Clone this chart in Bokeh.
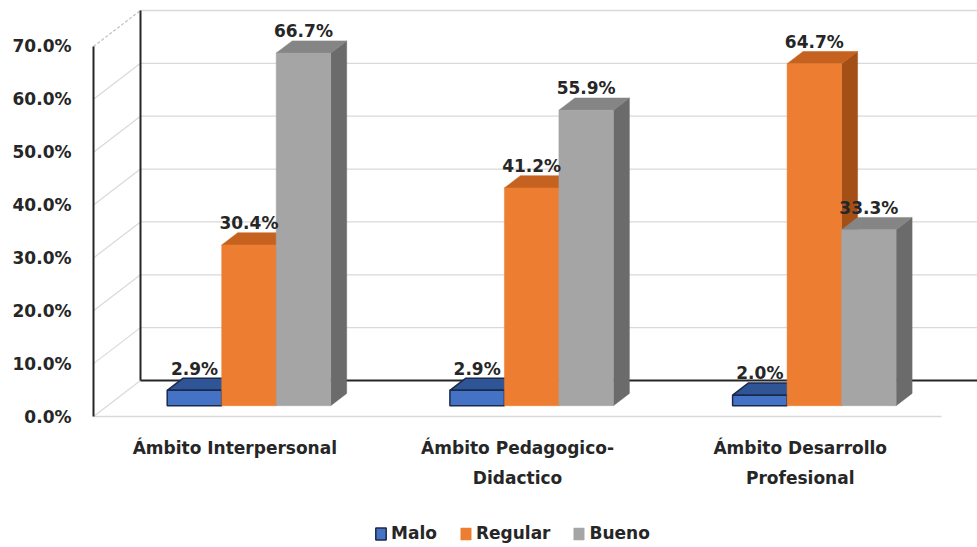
from bokeh.plotting import figure
from bokeh.models import (ColumnDataSource, FixedTicker, PrintfTickFormatter,
                          Range1d, Legend, LegendItem)
from bokeh.embed import file_html
from bokeh.resources import INLINE
from bokeh.core.properties import value

# ---------------- data ----------------
categories = ["Ámbito Interpersonal", "Ámbito Pedagogico-\nDidactico",
              "Ámbito Desarrollo\nProfesional"]
series_names = ["Malo", "Regular", "Bueno"]
malo = [2.9, 2.9, 2.0]
regular = [30.4, 41.2, 64.7]
bueno = [66.7, 55.9, 33.3]
y_ticks = [0, 10, 20, 30, 40, 50, 60, 70]

series_values = [malo, regular, bueno]

# ---------------- styles ----------------
front_colors = ["#4472C4", "#ED7D31", "#A5A5A5"]
top_colors = ["#2F5597", "#C5621F", "#858585"]
side_colors = ["#203864", "#A34F16", "#6B6B6B"]
line_colors = ["#1B2A4A", None, None]
TXT = "#262626"
FONT = "DejaVu Sans"
GRID = "#D9D9D9"
DARK = "#262626"

# ---------------- 3D geometry (data units) ----------------
PX_X = 282.7          # pixels per category unit
PX_Y = 5.286          # pixels per percent
DX = 47 / PX_X        # full depth shift (x)
DY = 36 / PX_Y        # full depth shift (y)
F0, F1 = 0.30, 0.64   # bar front / back depth fractions
BAR_W = 54.5 / PX_X
X0 = -0.5             # left edge of the front plane
X1 = 2.5              # right edge of the front plane
YMAX = y_ticks[-1]

W, H = 977, 547
ML = 90               # frame left edge (px)
FLOOR_PX = 416        # pixel row of the front floor (value 0)
x_start = X0 - 3 / PX_X
x_end = x_start + (W - ML) / PX_X
y_start = -(H - FLOOR_PX) / PX_Y
y_end = FLOOR_PX / PX_Y

# category label rows (offsets below the floor, in percent units)
CAT_LINE1 = -31 / PX_Y
CAT_LINE2 = -61 / PX_Y
LABEL_GAP = 9.5 / PX_Y

p = figure(width=W, height=H, output_backend="svg", toolbar_location=None,
           x_range=Range1d(x_start, x_end), y_range=Range1d(y_start, y_end),
           min_border_left=ML, min_border_right=0, min_border_top=0,
           min_border_bottom=0)
p.outline_line_color = None
p.xgrid.visible = False
p.ygrid.visible = False
p.xaxis.visible = False
p.background_fill_color = "white"
p.border_fill_color = "white"

# ---------------- walls ----------------
bx = X0 + DX
n = len(y_ticks)
p.segment(x0=[bx] * (n - 1), y0=[t + DY for t in y_ticks[1:]],
          x1=[x_end + 1] * (n - 1), y1=[t + DY for t in y_ticks[1:]],
          line_color=GRID, line_width=1.3)
p.segment(x0=[X0] * (n - 1), y0=y_ticks[:-1],
          x1=[bx] * (n - 1), y1=[t + DY for t in y_ticks[:-1]],
          line_color=GRID, line_width=1.2)
p.segment(x0=[X0], y0=[YMAX], x1=[bx], y1=[YMAX + DY],
          line_color="#BFBFBF", line_width=1.2, line_dash="3 2")
p.segment(x0=[X0], y0=[0], x1=[X1], y1=[0], line_color=GRID, line_width=1.5)
p.segment(x0=[bx], y0=[DY], x1=[x_end + 1], y1=[DY], line_color=DARK, line_width=2)
p.segment(x0=[bx], y0=[DY], x1=[bx], y1=[YMAX + DY], line_color=DARK, line_width=2)
p.segment(x0=[X0], y0=[0], x1=[X0], y1=[YMAX], line_color=DARK, line_width=2)

# ---------------- bars ----------------
ddx = (F1 - F0) * DX
ddy = (F1 - F0) * DY
front_renderers = []
label_x, label_y, label_t = [], [], []
for i, vals in enumerate(series_values):
    xc = [g + (i - 1) * BAR_W + F0 * DX for g in range(len(categories))]
    yb = F0 * DY
    xs_side, ys_side, xs_top, ys_top = [], [], [], []
    for x, v in zip(xc, vals):
        xl, xr = x - BAR_W / 2, x + BAR_W / 2
        yt = yb + v
        xs_side.append([xr, xr + ddx, xr + ddx, xr])
        ys_side.append([yb, yb + ddy, yt + ddy, yt])
        xs_top.append([xl, xr, xr + ddx, xl + ddx])
        ys_top.append([yt, yt, yt + ddy, yt + ddy])
        label_x.append(x)
        label_y.append(yt + ddy + LABEL_GAP)
        label_t.append(f"{v:.1f}%")
    p.patches(xs=xs_side, ys=ys_side, fill_color=side_colors[i],
              line_color=side_colors[i], line_width=0.5)
    lc = line_colors[i] or top_colors[i]
    p.patches(xs=xs_top, ys=ys_top, fill_color=top_colors[i],
              line_color=lc, line_width=1.5 if line_colors[i] else 0.5)
    src = ColumnDataSource(dict(x=xc, top=[yb + v for v in vals],
                                bottom=[yb] * len(vals)))
    r = p.vbar(x="x", top="top", bottom="bottom", width=BAR_W, source=src,
               fill_color=front_colors[i],
               line_color=line_colors[i] or front_colors[i],
               line_width=1.5 if line_colors[i] else 0.5)
    front_renderers.append(r)

# data labels
p.text(x=label_x, y=label_y, text=label_t, text_align="center",
       text_baseline="alphabetic", text_font=value(FONT), text_font_style="bold",
       text_font_size="17px", text_color=TXT)

# category labels (one or two lines each)
cx, cy, ct = [], [], []
for g, c in enumerate(categories):
    for k, line in enumerate(c.split("\n")):
        cx.append(g)
        cy.append(CAT_LINE1 if k == 0 else CAT_LINE2)
        ct.append(line)
p.text(x=cx, y=cy, text=ct, text_align="center", text_baseline="middle",
       text_font=value(FONT), text_font_style="bold", text_font_size="17px",
       text_color=TXT)

# ---------------- y axis ----------------
p.yaxis.ticker = FixedTicker(ticks=y_ticks)
p.yaxis.formatter = PrintfTickFormatter(format="%.1f%%")
p.yaxis.axis_line_color = None
p.yaxis.major_tick_line_color = None
p.yaxis.minor_tick_line_color = None
p.yaxis.major_tick_out = 0
p.yaxis.major_tick_in = 0
p.yaxis.major_label_standoff = 19
p.yaxis.major_label_text_font = FONT
p.yaxis.major_label_text_font_style = "bold"
p.yaxis.major_label_text_font_size = "17px"
p.yaxis.major_label_text_color = TXT

# ---------------- legend ----------------
legend = Legend(items=[LegendItem(label=nm, renderers=[r])
                       for nm, r in zip(series_names, front_renderers)],
                orientation="horizontal", location=(284, 4),
                glyph_width=13, glyph_height=15, label_standoff=4, spacing=22,
                padding=0, margin=0, border_line_color=None,
                background_fill_alpha=0, label_text_font=FONT,
                label_text_font_style="bold", label_text_font_size="17px",
                label_text_color=TXT, label_height=20)
p.add_layout(legend)

open("out.html", "w").write(file_html(p, INLINE))
